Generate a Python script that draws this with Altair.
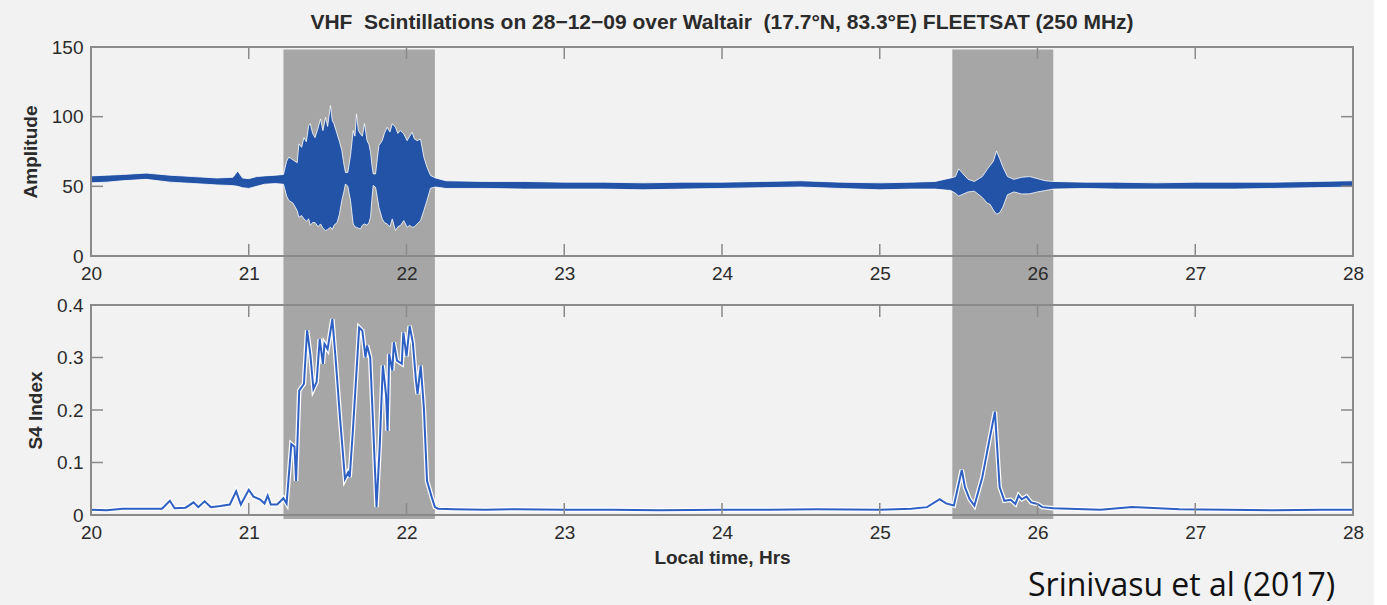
import altair as alt
import pandas as pd

# ---------------- data ----------------
amp_time = [20.00, 20.10, 20.20, 20.35, 20.50, 20.65, 20.80, 20.90, 20.93, 20.96, 21.00, 21.05, 21.10, 21.17, 21.22,
            21.24, 21.254, 21.28, 21.307, 21.318, 21.335, 21.35, 21.365, 21.38, 21.39, 21.405, 21.42, 21.44, 21.455,
            21.47, 21.487, 21.50, 21.518, 21.53, 21.54, 21.56, 21.575, 21.59, 21.603, 21.613, 21.628, 21.645, 21.662,
            21.673, 21.683, 21.695, 21.708, 21.72, 21.734, 21.75, 21.762, 21.772, 21.78, 21.789, 21.804, 21.815,
            21.825, 21.846, 21.86, 21.877, 21.895, 21.91, 21.93, 21.945, 21.962, 21.983, 22.004, 22.02, 22.036,
            22.05, 22.068, 22.089, 22.11, 22.13, 22.152, 22.184,
            22.25, 22.5, 22.75, 23.0, 23.25, 23.5, 23.75, 24.0, 24.25, 24.5, 24.75, 25.0, 25.2, 25.35, 25.45, 25.48,
            25.5, 25.52, 25.56, 25.6, 25.65, 25.68, 25.7, 25.72, 25.74, 25.76, 25.78, 25.81, 25.85, 25.9, 25.95,
            26.0, 26.05, 26.1, 26.3, 26.5, 26.75, 27.0, 27.25, 27.5, 27.75, 28.0]
amp_upper = [57.5, 58.0, 58.5, 59.5, 58.0, 57.0, 56.0, 56.5, 61.0, 56.0, 55.5, 57.0, 57.5, 58.0, 58.5,
             68, 71, 69, 67, 80.5, 78, 85, 82, 93.6, 95, 88, 85, 92, 98.4,
             90, 99.6, 93, 108, 97, 95, 87.6, 82, 75.7, 66, 60, 60, 72, 90,
             86, 102, 90, 87.6, 86, 95, 82.8, 80, 74.5, 66, 58.9, 58.9, 70,
             79.3, 82.8, 88, 92.4, 89, 95, 92.4, 88, 90, 87.6, 82.8, 86, 88.8,
             84, 82.8, 84, 71, 63.7, 57.8, 56,
             54, 53.5, 53.5, 53, 53, 52.5, 53, 53, 53.5, 54, 53, 52.5, 53, 53.5, 56, 57,
             62.6, 60, 55, 53.5, 57, 62, 65, 68, 75.3, 70, 64, 57, 55, 56.5, 57,
             55.5, 54, 53.5, 53, 53, 52.5, 53, 53, 53, 53.5, 54]
amp_lower = [52.5, 53.0, 54.0, 55.0, 53.0, 52.0, 51.0, 50.5, 50.0, 49.0, 48.5, 50.0, 51.5, 52.0, 51.5,
             43, 39.8, 38, 32.6, 27.8, 29, 26.6, 25, 26.6, 22, 24, 24, 21, 23,
             20, 18.2, 19, 20.6, 19, 22, 24, 30, 39.9, 46, 51.7, 50, 39.9, 23,
             21, 20.6, 20, 19.4, 22, 23, 22, 24, 27.8, 40, 50.6, 49.3, 42,
             35, 26.6, 24, 23, 21, 26.6, 18.2, 21, 22, 25.4, 20.6, 22, 20.6,
             21, 23, 25.4, 32.6, 39.9, 48.6, 49.5,
             48.5, 48.5, 48, 48, 48, 47.5, 48, 48.5, 49, 49.5, 48.5, 47.5, 48, 48, 47, 45,
             43, 44, 46, 46.5, 42, 38, 37, 33, 30, 31, 35, 44, 46, 44.5, 44.6,
             46, 47, 48, 48.5, 48, 48, 48, 48, 48.5, 49, 49.5]

s4_time = [20.0, 20.1, 20.2, 20.3, 20.45, 20.5, 20.53, 20.6, 20.65, 20.68, 20.72, 20.76, 20.82, 20.88, 20.92,
           20.95, 21.0, 21.03, 21.07, 21.1, 21.12, 21.14, 21.18, 21.22, 21.24, 21.27, 21.29, 21.3, 21.32, 21.35,
           21.37, 21.39, 21.41, 21.43, 21.45, 21.47, 21.48, 21.5, 21.53, 21.55, 21.58, 21.61, 21.63, 21.64, 21.66,
           21.7, 21.72, 21.74, 21.75, 21.77, 21.79, 21.81, 21.83, 21.85, 21.87, 21.88, 21.89, 21.91, 21.92, 21.94,
           21.97, 21.98, 22.0, 22.02, 22.04, 22.06, 22.07, 22.09, 22.11, 22.13, 22.16, 22.18, 22.2, 22.3, 22.5,
           22.7, 23.0, 23.3, 23.6, 24.0, 24.3, 24.6, 25.0, 25.2, 25.3, 25.38, 25.42, 25.47, 25.52, 25.54, 25.57,
           25.6, 25.65, 25.69, 25.73, 25.76, 25.79, 25.83, 25.86, 25.88, 25.9, 25.93, 25.96, 26.0, 26.03, 26.1,
           26.2, 26.4, 26.6, 26.7, 26.9, 27.2, 27.5, 27.8, 28.0]
s4_value = [0.010, 0.009, 0.012, 0.012, 0.012, 0.027, 0.013, 0.014, 0.024, 0.015, 0.026, 0.015, 0.017, 0.020, 0.045,
            0.020, 0.048, 0.035, 0.030, 0.022, 0.037, 0.020, 0.020, 0.032, 0.022, 0.135, 0.130, 0.065, 0.237, 0.250,
            0.352, 0.307, 0.240, 0.253, 0.335, 0.288, 0.326, 0.316, 0.373, 0.300, 0.180, 0.069, 0.081, 0.072, 0.160,
            0.357, 0.351, 0.300, 0.323, 0.300, 0.160, 0.015, 0.130, 0.285, 0.230, 0.160, 0.307, 0.275, 0.329, 0.294,
            0.288, 0.348, 0.302, 0.360, 0.329, 0.256, 0.230, 0.285, 0.205, 0.065, 0.034, 0.015, 0.012, 0.011, 0.010,
            0.011, 0.010, 0.010, 0.009, 0.010, 0.010, 0.011, 0.010, 0.012, 0.015, 0.030, 0.022, 0.018, 0.086, 0.053,
            0.030, 0.018, 0.072, 0.135, 0.197, 0.053, 0.027, 0.029, 0.021, 0.037, 0.030, 0.035, 0.024, 0.021, 0.015,
            0.013, 0.012, 0.010, 0.015, 0.014, 0.011, 0.010, 0.009, 0.010, 0.010]

band_start = [21.22, 25.46]
band_end = [22.18, 26.10]

x_ticks = [20, 21, 22, 23, 24, 25, 26, 27, 28]
amp_ticks = [0, 50, 100, 150]
s4_ticks = [0, 0.1, 0.2, 0.3, 0.4]

# double spaces kept with no-break spaces (SVG collapses plain runs of spaces)
title_text = "VHF\u00a0 Scintillations on 28\u221212\u221209 over Waltair\u00a0 (17.7\u00b0N, 83.3\u00b0E) FLEETSAT (250 MHz)"
citation = ["Srinivasu et al (2017)"]

# ---------------- styling ----------------
W = 1262
H1 = 209
H2 = 210
GAP = 49
TICK = 12
BG = "#f2f2f2"
SHADE = "#a6a6a6"
FRAME = "#8a8a8a"
AMP_BLUE = "#2353a6"
S4_BLUE = "#2e5fc2"
FONT = "Liberation Sans"

amp_df = pd.DataFrame({"t": amp_time, "hi": amp_upper, "lo": amp_lower})
s4_df = pd.DataFrame({"t": s4_time, "s4": s4_value})
band_df = pd.DataFrame({"start": band_start, "end": band_end})
xt_df = pd.DataFrame({"v": x_ticks})
cite_df = pd.DataFrame({"txt": citation})

xscale = alt.Scale(domain=[20, 28], nice=False, zero=False)
ascale = alt.Scale(domain=[0, 150], nice=False)
sscale = alt.Scale(domain=[0, 0.4], nice=False)


def x_axis(with_title):
    kw = dict(values=x_ticks, labelPadding=8, labelFontSize=19, labelColor="#2b2b2b",
              labelFont=FONT, format="d", labelFlush=False, zindex=2)
    if with_title:
        return alt.Axis(title="Local time, Hrs", titleFontSize=19, titleFontWeight="bold",
                        titleFont=FONT, titleColor="#2b2b2b", titlePadding=6, **kw)
    return alt.Axis(title=None, **kw)


def panel(h, yscale, yticks, ytitle, yfmt, main_layers, shade_extent, xtitle):
    shade = alt.Chart(band_df).mark_rect(color=SHADE).encode(
        x=alt.X("start:Q", scale=xscale, axis=x_axis(xtitle)),
        x2="end:Q",
        y=alt.value(shade_extent[0]),
        y2=alt.value(shade_extent[1]),
    )
    frame = alt.Chart(cite_df).mark_rect(fillOpacity=0, stroke=FRAME, strokeWidth=2).encode(
        x=alt.value(0), x2=alt.value(W), y=alt.value(0), y2=alt.value(h)
    )
    xt_bottom = alt.Chart(xt_df).mark_rule(color=FRAME, strokeWidth=1.5).encode(
        x=alt.X("v:Q", scale=xscale), y=alt.value(h), y2=alt.value(h - TICK)
    )
    xt_top = alt.Chart(xt_df).mark_rule(color=FRAME, strokeWidth=1.5).encode(
        x=alt.X("v:Q", scale=xscale), y=alt.value(0), y2=alt.value(TICK)
    )
    ytdf = pd.DataFrame({"v": yticks})
    yt_left = alt.Chart(ytdf).mark_rule(color=FRAME, strokeWidth=1.5).encode(
        y=alt.Y("v:Q", scale=yscale), x=alt.value(0), x2=alt.value(TICK)
    )
    yt_right = alt.Chart(ytdf).mark_rule(color=FRAME, strokeWidth=1.5).encode(
        y=alt.Y("v:Q", scale=yscale), x=alt.value(W - TICK), x2=alt.value(W)
    )
    yaxis_layer = alt.Chart(ytdf).mark_point(opacity=0).encode(
        y=alt.Y("v:Q", scale=yscale,
                axis=alt.Axis(values=yticks, title=ytitle, format=yfmt, labelPadding=8,
                              labelFontSize=19, labelFont=FONT, labelColor="#2b2b2b",
                              titleFontSize=19, titleFontWeight="bold", titleFont=FONT,
                              titleColor="#2b2b2b", titlePadding=11, zindex=2)),
        x=alt.value(0),
    )
    layers = [shade] + main_layers + [xt_bottom, xt_top, yt_left, yt_right, frame, yaxis_layer]
    return alt.layer(*layers).properties(width=W, height=h)


amp_area = alt.Chart(amp_df).mark_area(color=AMP_BLUE, stroke="white", strokeWidth=0.8,
                                       interpolate="linear").encode(
    x=alt.X("t:Q", scale=xscale),
    y=alt.Y("hi:Q", scale=ascale),
    y2="lo:Q",
)
top = panel(H1, ascale, amp_ticks, "Amplitude", "d", [amp_area], (2.6, H1 + GAP + 1), False)
top = top.properties(title=alt.TitleParams(title_text, fontSize=21, fontWeight="bold", font=FONT,
                                           color="#2b2b2b", anchor="middle", frame="group", offset=5))

s4_halo = alt.Chart(s4_df).mark_line(color="white", strokeWidth=4.5).encode(
    x=alt.X("t:Q", scale=xscale), y=alt.Y("s4:Q", scale=sscale)
)
s4_line = alt.Chart(s4_df).mark_line(color=S4_BLUE, strokeWidth=2).encode(
    x=alt.X("t:Q", scale=xscale), y=alt.Y("s4:Q", scale=sscale)
)
cite = alt.Chart(cite_df).mark_text(align="left", baseline="alphabetic", font="Open Sans", fontSize=32,
                                    color="#111111").encode(
    text="txt:N", x=alt.value(937), y=alt.value(H2 + 81)
)
bottom = panel(H2, sscale, s4_ticks, "S4 Index", ".1~f", [s4_halo, s4_line, cite], (0, H2 + 4), True)

chart = alt.vconcat(top, bottom, spacing=GAP, bounds="flush").resolve_scale(
    x="independent", y="independent"
).properties(
    background=BG,
    padding={"left": 21, "top": 12, "right": 10, "bottom": 30},
).configure_view(
    stroke=None, fill=BG
).configure_axis(
    domain=False, ticks=False, grid=False
)

chart.save("out.html", embed_options={"renderer": "svg", "actions": False})
